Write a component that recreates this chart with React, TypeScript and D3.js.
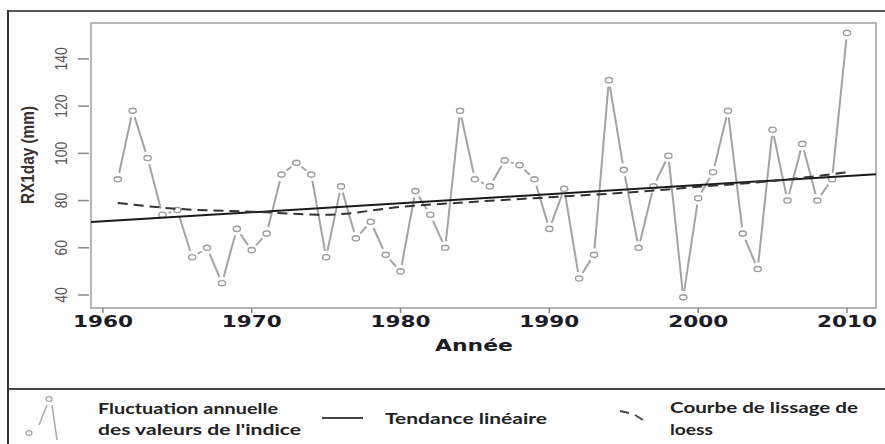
import React from 'react';
import * as d3 from 'd3';

// Annual RX1day values (mm)
const years = [
  1961, 1962, 1963, 1964, 1965, 1966, 1967, 1968, 1969, 1970,
  1971, 1972, 1973, 1974, 1975, 1976, 1977, 1978, 1979, 1980,
  1981, 1982, 1983, 1984, 1985, 1986, 1987, 1988, 1989, 1990,
  1991, 1992, 1993, 1994, 1995, 1996, 1997, 1998, 1999, 2000,
  2001, 2002, 2003, 2004, 2005, 2006, 2007, 2008, 2009, 2010,
];
const rx1day = [
  89, 118, 98, 74, 76, 56, 60, 45, 68, 59,
  66, 91, 96, 91, 56, 86, 64, 71, 57, 50,
  84, 74, 60, 118, 89, 86, 97, 95, 89, 68,
  85, 47, 57, 131, 93, 60, 86, 99, 39, 81,
  92, 118, 66, 51, 110, 80, 104, 80, 89, 151,
];

// linear trend (value at two reference years)
const trendYears = [1960, 2010];
const trendValues = [71.2, 90.4];

// loess smoothing curve
const loessYears = [1961, 1965, 1970, 1975, 1980, 1985, 1990, 1995, 2000, 2005, 2010];
const loessValues = [79, 76.5, 75.3, 74, 77.3, 79.5, 81.4, 83.3, 85.8, 88.3, 92];

const xTicks = [1960, 1970, 1980, 1990, 2000, 2010];
const yTicks = [40, 60, 80, 100, 120, 140];

const W = 885;
const H = 444;
const plot = { left: 91, right: 876, top: 23, bottom: 308 };

const App = () => {
  const x = d3.scaleLinear().domain([1959.2, 2011.95]).range([plot.left, plot.right]);
  const y = d3.scaleLinear().domain([34.5, 155.2]).range([plot.bottom, plot.top]);

  const pts = years.map((yr, i) => [x(yr), y(rx1day[i])]);

  // R type="b": segments stop short of the points
  const gap = 6.5;
  const segs = [];
  for (let i = 1; i < pts.length; i++) {
    const [x1, y1] = pts[i - 1];
    const [x2, y2] = pts[i];
    const d = Math.hypot(x2 - x1, y2 - y1);
    if (d <= gap * 2) continue;
    const ux = (x2 - x1) / d;
    const uy = (y2 - y1) / d;
    segs.push([x1 + ux * gap, y1 + uy * gap, x2 - ux * gap, y2 - uy * gap]);
  }

  // trend line extended over the full plot width
  const slope = (trendValues[1] - trendValues[0]) / (trendYears[1] - trendYears[0]);
  const [x0, x1] = x.domain();
  const tv = (yr) => trendValues[0] + slope * (yr - trendYears[0]);

  const loessLine = d3.line()
    .x((d) => x(d[0]))
    .y((d) => y(d[1]))
    .curve(d3.curveMonotoneX);
  const loessPath = loessLine(loessYears.map((yr, i) => [yr, loessValues[i]]));

  const grey = '#a3a3a3';
  const legendFont = 'Lato, "Open Sans", sans-serif';

  return (
    <svg
      width={W}
      height={H}
      viewBox={`0 0 ${W} ${H}`}
      style={{ position: 'absolute', left: 0, top: 0, background: 'white' }}
    >
      <rect x={0} y={0} width={W} height={H} fill="white" />

      {/* outer frame */}
      <line x1={8} x2={W} y1={11} y2={11} stroke="#555" strokeWidth={2} />
      <line x1={8} x2={8} y1={10} y2={H} stroke="#333" strokeWidth={2} />
      <line x1={8} x2={W} y1={389} y2={389} stroke="#444" strokeWidth={2} />

      <defs>
        <clipPath id="plotClip">
          <rect x={plot.left} y={plot.top} width={plot.right - plot.left} height={plot.bottom - plot.top} />
        </clipPath>
      </defs>

      {/* plot box */}
      <rect
        x={plot.left}
        y={plot.top}
        width={plot.right - plot.left}
        height={plot.bottom - plot.top}
        fill="none"
        stroke="#b5b5b5"
        strokeWidth={2}
      />

      {/* y axis */}
      {yTicks.map((t) => (
        <g key={t}>
          <line x1={78} x2={89} y1={y(t)} y2={y(t)} stroke="#888" strokeWidth={1.5} />
          <text
            transform={`translate(67,${y(t)}) rotate(-90)`}
            textAnchor="middle"
            fontFamily='"Liberation Sans Narrow", "Liberation Sans", sans-serif'
            fontSize={17}
            fill="#555"
            textLength={String(t).length * 7.7}
            lengthAdjust="spacingAndGlyphs"
          >
            {t}
          </text>
        </g>
      ))}
      <text
        transform={`translate(34,155) rotate(-90)`}
        textAnchor="middle"
        fontFamily='"Liberation Sans Narrow", "Liberation Sans", sans-serif'
        fontWeight="bold"
        fontSize={18}
        fill="#3b3030"
        textLength={98}
        lengthAdjust="spacingAndGlyphs"
      >
        RX1day (mm)
      </text>

      {/* x axis */}
      {xTicks.map((t) => (
        <g key={t}>
          <line x1={x(t)} x2={x(t)} y1={plot.bottom} y2={plot.bottom + 5} stroke="#888" strokeWidth={1.5} />
          <text
            x={x(t)}
            y={327}
            textAnchor="middle"
            fontFamily='"DejaVu Sans", Verdana, sans-serif'
            fontWeight="bold"
            fontSize={16}
            fill="#1c1c28"
            textLength={60}
            lengthAdjust="spacingAndGlyphs"
          >
            {t}
          </text>
        </g>
      ))}
      <text
        x={474}
        y={351}
        textAnchor="middle"
        fontFamily='"DejaVu Sans", Verdana, sans-serif'
        fontWeight="bold"
        fontSize={15}
        fill="#1c1c28"
        textLength={78}
        lengthAdjust="spacingAndGlyphs"
      >
        Année
      </text>

      <g clipPath="url(#plotClip)">
        {/* annual fluctuation */}
        {segs.map((s, i) => (
          <line key={i} x1={s[0]} y1={s[1]} x2={s[2]} y2={s[3]} stroke={grey} strokeWidth={2} />
        ))}
        {pts.map((p, i) => (
          <ellipse key={i} cx={p[0]} cy={p[1]} rx={3.6} ry={2.6} fill="white" stroke="#9c9c9c" strokeWidth={1.4} />
        ))}

        {/* linear trend */}
        <line x1={x(x0)} x2={x(x1)} y1={y(tv(x0))} y2={y(tv(x1))} stroke="#1a1a1a" strokeWidth={2} />

        {/* loess */}
        <path d={loessPath} fill="none" stroke="#333" strokeWidth={2} strokeDasharray="10,6" />
      </g>

      {/* legend */}
      <g>
        <ellipse cx={49} cy={399} rx={3} ry={2.3} fill="white" stroke="#aaa" strokeWidth={1.3} />
        <ellipse cx={29} cy={433} rx={3} ry={2.3} fill="white" stroke="#aaa" strokeWidth={1.3} />
        <line x1={39} y1={425} x2={47} y2={405} stroke="#aaa" strokeWidth={1.5} />
        <line x1={52} y1={405} x2={57} y2={440} stroke="#aaa" strokeWidth={1.5} />
        <text x={98} y={414} fontFamily={legendFont} fontWeight="bold" fontSize={16} fill="#222"
          textLength={180} lengthAdjust="spacingAndGlyphs">
          Fluctuation annuelle
        </text>
        <text x={98} y={435} fontFamily={legendFont} fontWeight="bold" fontSize={16} fill="#222"
          textLength={203} lengthAdjust="spacingAndGlyphs">
          des valeurs de l'indice
        </text>

        <line x1={322} x2={363} y1={418} y2={418} stroke="#444" strokeWidth={2} />
        <text x={385} y={424} fontFamily={legendFont} fontWeight="bold" fontSize={16} fill="#222"
          textLength={162} lengthAdjust="spacingAndGlyphs">
          Tendance linéaire
        </text>

        <line x1={620} y1={411} x2={629} y2={413} stroke="#444" strokeWidth={2} />
        <line x1={635} y1={415} x2={643} y2={420} stroke="#444" strokeWidth={2} />
        <text x={670} y={413} fontFamily={legendFont} fontWeight="bold" fontSize={16} fill="#222"
          textLength={188} lengthAdjust="spacingAndGlyphs">
          Courbe de lissage de
        </text>
        <text x={670} y={435} fontFamily={legendFont} fontWeight="bold" fontSize={16} fill="#222"
          textLength={43} lengthAdjust="spacingAndGlyphs">
          loess
        </text>
      </g>
    </svg>
  );
};

export default App;
